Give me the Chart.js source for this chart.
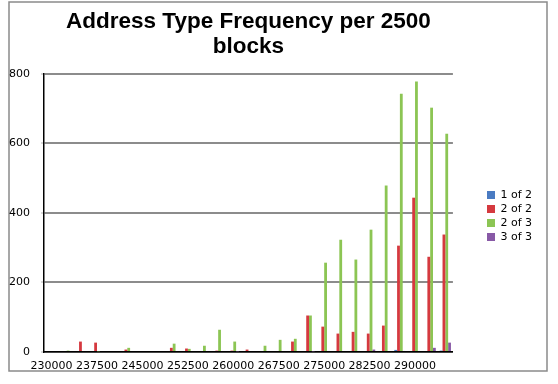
<!DOCTYPE html>
<html>
<head>
<meta charset="utf-8">
<script src="https://cdn.jsdelivr.net/npm/chart.js@4.4.1/dist/chart.umd.min.js"></script>
<style>
  html, body { margin: 0; padding: 0; background: #fff; }
  #wrap { width: 558px; height: 384px; }
</style>
</head>
<body>
<div id="wrap"><canvas id="freqChart" width="558" height="384"></canvas></div>
<script>
// block heights, one group of bars per 2500 blocks
var categories = ['230000', '232500', '235000', '237500', '240000', '242500', '245000',
    '247500', '250000', '252500', '255000', '257500', '260000', '262500', '265000',
    '267500', '270000', '272500', '275000', '277500', '280000', '282500', '285000',
    '287500', '290000', '292500', '295000'];
var xTickLabels = ['230000', '237500', '245000', '252500', '260000', '267500', '275000', '282500', '290000'];
var yTicks = [0, 200, 400, 600, 800];

var seriesNames = ['1 of 2', '2 of 2', '2 of 3', '3 of 3'];
var oneOfTwo   = [0, 0, 0, 0, 0, 0, 0, 0, 0, 0, 0, 0, 0, 0, 0, 0, 0, 0, 0, 0, 0, 0, 0, 6, 0, 0, 4];
var twoOfTwo   = [0, 0, 30, 27, 0, 7, 0, 0, 12, 10, 0, 4, 4, 7, 0, 0, 30, 105, 73, 53, 58, 53, 76, 306, 444, 274, 338];
var twoOfThree = [0, 4, 0, 2, 0, 12, 0, 0, 24, 9, 18, 64, 30, 0, 18, 35, 38, 105, 257, 323, 266, 352, 479, 743, 778, 703, 628];
var threeOfThree = [0, 0, 0, 0, 0, 0, 0, 0, 0, 0, 0, 0, 2, 0, 0, 0, 0, 2, 3, 0, 3, 7, 0, 3, 3, 12, 27];
var colors = ['#4A7BC2', '#D5393F', '#8CC554', '#8859A6'];

/*
 * white background and the grey frame round the whole chart
 */
var framePlugin = {
    id: 'frame',
    beforeDraw: function (chart) {
        var ctx = chart.ctx;
        ctx.save();
        ctx.fillStyle = '#fff';
        ctx.fillRect(0, 0, chart.width, chart.height);
        ctx.strokeStyle = '#8a8a8a';
        ctx.lineWidth = 1.5;
        ctx.strokeRect(9, 2, 538, 369);
        ctx.restore();
    }
};

// move the legend a bit away from the plot
var legendPlace = {
    id: 'legendPlace',
    afterLayout: function (chart) {
        var lg = chart.legend;
        var w = lg.width;
        lg.left = 484;
        lg.right = 484 + w;
        lg.top += 3;
        lg.bottom += 3;
    }
};

var datasets = [oneOfTwo, twoOfTwo, twoOfThree, threeOfThree].map(function (vals, i) {
    return {
        label: seriesNames[i],
        data: vals,
        backgroundColor: colors[i],
        borderColor: colors[i],
        borderWidth: 0,
        categoryPercentage: 0.74,
        barPercentage: 1.0
    };
});

var ctx = document.getElementById('freqChart').getContext('2d');
var chart = new Chart(ctx, {
    type: 'bar',
    data: {
        labels: categories,
        datasets: datasets
    },
    options: {
        responsive: false,
        animation: false,
        layout: {
            padding: { left: 0, top: 0, bottom: 0, right: 47 }
        },
        plugins: {
            title: {
                display: true,
                text: ['Address Type Frequency per 2500', 'blocks'],
                fullSize: false,
                color: '#000',
                font: { family: 'Liberation Sans', size: 22.5, weight: 'bold', lineHeight: 1.11 },
                padding: { top: 9.5, bottom: 14.5 }
            },
            legend: {
                position: 'right',
                fullSize: false,
                align: 'center',
                labels: {
                    boxWidth: 8,
                    boxHeight: 8,
                    padding: 3,
                    color: '#000',
                    font: { family: 'DejaVu Sans', size: 11 }
                }
            },
            tooltip: { enabled: false }
        },
        scales: {
            x: {
                grid: { display: false, drawTicks: false },
                border: { color: '#000', width: 1.5 },
                ticks: {
                    autoSkip: false,
                    maxRotation: 0,
                    padding: 8,
                    color: '#000',
                    font: { family: 'DejaVu Sans', size: 11 },
                    callback: function (val) {
                        var lab = this.getLabelForValue(val);
                        return xTickLabels.indexOf(lab) >= 0 ? lab : '';
                    }
                },
                afterFit: function (scale) { scale.height = 32; }
            },
            y: {
                min: yTicks[0],
                max: yTicks[yTicks.length - 1],
                grid: { color: '#8c8c8c', lineWidth: 2, tickLength: 3, tickColor: '#b0b0b0', tickWidth: 1 },
                border: { color: '#000', width: 1.5 },
                ticks: {
                    stepSize: 200,
                    padding: 11,
                    color: '#000',
                    font: { family: 'DejaVu Sans', size: 11 }
                },
                afterFit: function (scale) { scale.width = 44; }
            }
        }
    },
    plugins: [framePlugin, legendPlace]
});
</script>
</body>
</html>
